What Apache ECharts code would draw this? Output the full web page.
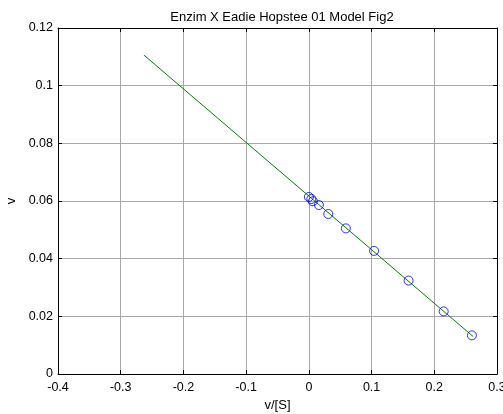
<!DOCTYPE html>
<html>
<head>
<meta charset="utf-8">
<script src="https://cdn.jsdelivr.net/npm/echarts@6/dist/echarts.min.js"></script>
<style>html,body{margin:0;padding:0;background:#fff}#c{width:503px;height:414px}</style>
</head>
<body>
<div id="c"></div>
<script>
var titleText = 'Enzim X Eadie Hopstee 01 Model Fig2';
var xName = 'v/[S]';
var yName = 'v';
var vOverS = [0.000, 0.004, 0.0064, 0.016, 0.031, 0.059, 0.104, 0.159, 0.215, 0.260];
var vObs = [0.0614, 0.0607, 0.0599, 0.0586, 0.0555, 0.0505, 0.0427, 0.0324, 0.0217, 0.0134];
var fitX = [-0.263, 0.262];
var fitY = [0.1106, 0.0130];

var chart = echarts.init(document.getElementById('c'), null, {renderer: 'canvas'});
var font = 'Liberation Sans, Arial, sans-serif';
var pts = vOverS.map(function (x, i) { return [x, vObs[i]]; });
var line = fitX.map(function (x, i) { return [x, fitY[i]]; });
function fmt(v) { return String(Math.round(v * 1000) / 1000); }
chart.setOption({
  animation: false,
  backgroundColor: '#fff',
  title: {
    text: titleText, left: 277, top: 6, textAlign: 'center',
    textStyle: {fontFamily: font, fontSize: 13, fontWeight: 'normal', color: '#000'}
  },
  grid: {left: 58, right: 6, top: 28, bottom: 40, containLabel: false, outerBoundsMode: 'none'},
  xAxis: [{
    type: 'value', min: -0.4, max: 0.3, interval: 0.1,
    name: xName, nameLocation: 'middle', nameGap: 24,
    nameTextStyle: {fontFamily: font, fontSize: 13, color: '#000'},
    axisLine: {onZero: false, lineStyle: {color: '#000', width: 1}},
    axisTick: {inside: true, length: 4, lineStyle: {color: '#000'}},
    axisLabel: {fontFamily: font, fontSize: 12.5, color: '#000', margin: 7, formatter: fmt},
    splitLine: {show: true, lineStyle: {color: '#a8a8a8', width: 1}}
  }, {
    type: 'value', position: 'top', min: -0.4, max: 0.3, interval: 0.1,
    axisLine: {onZero: false, lineStyle: {color: '#000', width: 1}},
    axisTick: {inside: true, length: 4, lineStyle: {color: '#000'}},
    axisLabel: {show: false}, splitLine: {show: false}
  }],
  yAxis: [{
    type: 'value', min: 0, max: 0.12, interval: 0.02,
    name: yName, nameLocation: 'middle', nameGap: 38, nameRotate: 90,
    nameTextStyle: {fontFamily: font, fontSize: 13, color: '#000'},
    axisLine: {onZero: false, lineStyle: {color: '#000', width: 1}},
    axisTick: {inside: true, length: 4, lineStyle: {color: '#000'}},
    axisLabel: {fontFamily: font, fontSize: 12.5, color: '#000', margin: 5, formatter: fmt},
    splitLine: {show: true, lineStyle: {color: '#a8a8a8', width: 1}}
  }, {
    type: 'value', position: 'right', min: 0, max: 0.12, interval: 0.02,
    axisLine: {onZero: false, lineStyle: {color: '#000', width: 1}},
    axisTick: {inside: true, length: 4, lineStyle: {color: '#000'}},
    axisLabel: {show: false}, splitLine: {show: false}
  }],
  series: [{
    type: 'line', data: line, showSymbol: false, symbol: 'none',
    lineStyle: {color: '#008000', width: 1}, z: 3
  }, {
    type: 'scatter', data: pts, symbol: 'circle', symbolSize: 9,
    itemStyle: {color: 'rgba(0,0,0,0)', borderColor: '#0000ff', borderWidth: 1}, z: 4
  }]
});
</script>
</body>
</html>
